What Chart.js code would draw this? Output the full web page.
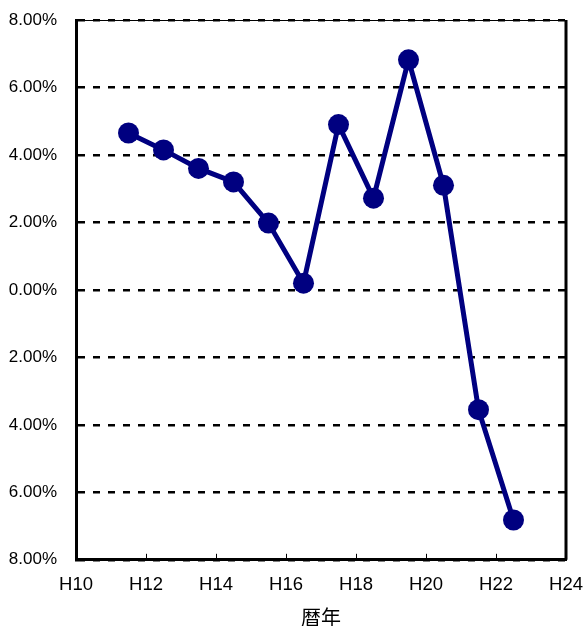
<!DOCTYPE html>
<html>
<head>
<meta charset="utf-8">
<script src="https://cdn.jsdelivr.net/npm/chart.js@4/dist/chart.umd.min.js"></script>
<style>
html,body{margin:0;padding:0;background:#fff;}
#wrap{width:583px;height:626px;position:relative;}
</style>
</head>
<body>
<div id="wrap"><canvas id="c" width="583" height="626"></canvas></div>
<script>
const years = [11.5, 12.5, 13.5, 14.5, 15.5, 16.5, 17.5, 18.5, 19.5, 20.5, 21.5, 22.5];
const rates = [4.65, 4.15, 3.6, 3.2, 1.98, 0.2, 4.9, 2.72, 6.82, 3.1, -3.55, -6.82];
const xTicks = [10, 12, 14, 16, 18, 20, 22, 24];
const yTicks = [-8, -6, -4, -2, 0, 2, 4, 6, 8];
const xTitle = '暦年';

const frame = {
  id: 'frame',
  afterDraw(chart) {
    const {ctx, chartArea: a, scales} = chart;
    ctx.save();
    ctx.strokeStyle = '#000';
    ctx.lineWidth = 1;
    ctx.beginPath();
    ctx.moveTo(a.left, a.top + 0.5);
    ctx.lineTo(a.right, a.top + 0.5);
    ctx.stroke();
    ctx.lineWidth = 3;
    ctx.beginPath();
    ctx.moveTo(a.right, a.top);
    ctx.lineTo(a.right, a.bottom);
    ctx.stroke();
    ctx.lineWidth = 1;
    xTicks.slice(1, -1).forEach(v => {
      const x = Math.round(scales.x.getPixelForValue(v)) + 0.5;
      ctx.beginPath();
      ctx.moveTo(x, a.bottom);
      ctx.lineTo(x, a.bottom - 6);
      ctx.stroke();
    });
    ctx.restore();
  }
};

new Chart(document.getElementById('c'), {
  type: 'line',
  data: {
    datasets: [{
      data: years.map((x, i) => ({x, y: rates[i]})),
      borderColor: '#000080',
      backgroundColor: '#000080',
      borderWidth: 5,
      pointRadius: 10.5,
      pointHoverRadius: 10.5,
      pointBorderWidth: 0,
      tension: 0
    }]
  },
  options: {
    responsive: false,
    animation: false,
    plugins: {legend: {display: false}, tooltip: {enabled: false}},
    layout: {padding: {left: 2, top: 20, right: 17, bottom: 0}},
    scales: {
      x: {
        type: 'linear',
        min: 10, max: 24,
        afterBuildTicks: s => { s.ticks = xTicks.map(v => ({value: v})); },
        afterFit: s => { s.paddingRight = 0; s.paddingLeft = 0; },
        ticks: {
          callback: v => 'H' + v,
          color: '#000',
          font: {family: '"Liberation Sans", Arial, sans-serif', size: 18.5},
          padding: 6,
          maxRotation: 0,
          autoSkip: false
        },
        grid: {display: false},
        border: {display: true, color: '#000', width: 3},
        title: {
          display: true,
          text: xTitle,
          color: '#000',
          font: {family: '"Noto Sans CJK JP", sans-serif', size: 20, lineHeight: 0.8},
          padding: {top: 7, bottom: 1}
        }
      },
      y: {
        type: 'linear',
        min: -8, max: 8,
        afterBuildTicks: s => { s.ticks = yTicks.map(v => ({value: v})); },
        afterFit: s => { s.width = 74; s.paddingTop = 0; s.paddingBottom = 0; },
        ticks: {
          callback: v => Math.abs(v).toFixed(2) + '%',
          color: '#000',
          font: {family: '"Liberation Sans", Arial, sans-serif', size: 17},
          padding: 19,
          autoSkip: false
        },
        grid: {
          color: '#000',
          lineWidth: 2.5,
          drawTicks: false,
          tickLength: 0
        },
        border: {display: true, color: '#000', width: 3, dash: [7, 8]}
      }
    }
  },
  plugins: [frame]
});
</script>
</body>
</html>
